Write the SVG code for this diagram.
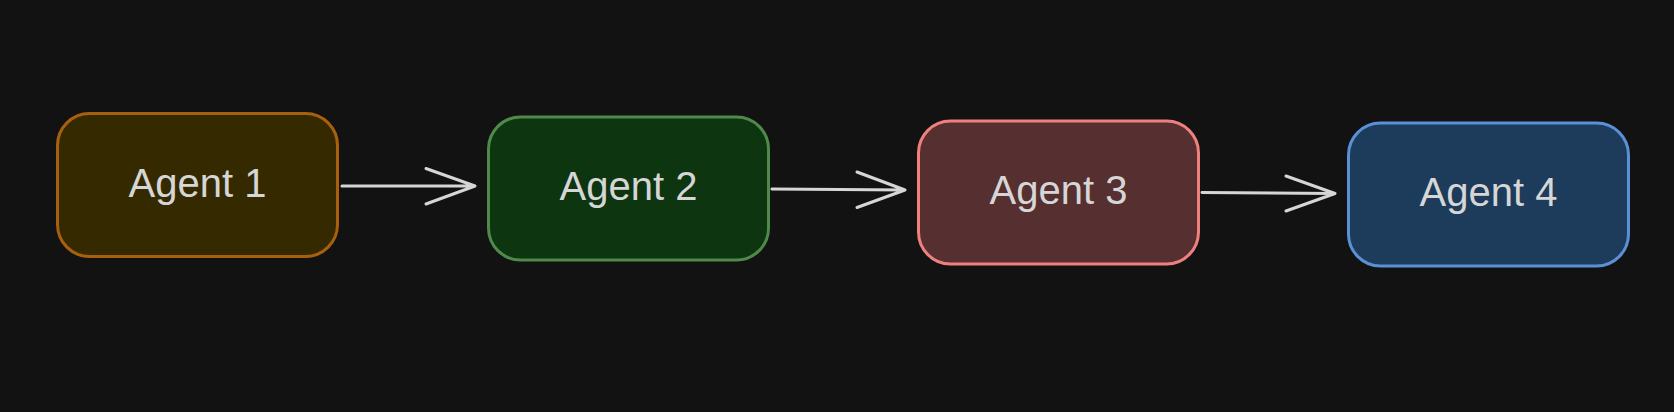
<svg xmlns="http://www.w3.org/2000/svg" width="1674" height="412" viewBox="0 0 1674 412">
<style>
.box{stroke-width:3}
.lbl{font-family:"Liberation Sans",Arial,sans-serif;font-size:40px;fill:#d6d6d6;text-anchor:middle}
.conn{stroke:#d6d6d6;stroke-width:3;fill:none;stroke-linecap:round;stroke-linejoin:round}
</style>
<rect width="1674" height="412" fill="#121212"/>
<g id="agent1"><rect class="box" x="57.5" y="113.5" width="280" height="143" rx="32" fill="#352900" stroke="#a8600f"/><text class="lbl" x="197.5" y="197">Agent 1</text></g>
<g id="agent2"><rect class="box" x="488.5" y="117" width="280" height="143" rx="32" fill="#0d3510" stroke="#4f8a4b"/><text class="lbl" x="628.5" y="200">Agent 2</text></g>
<g id="agent3"><rect class="box" x="918.5" y="121" width="280" height="143" rx="32" fill="#563030" stroke="#f08080"/><text class="lbl" x="1058.5" y="204">Agent 3</text></g>
<g id="agent4"><rect class="box" x="1348.5" y="123" width="280" height="143" rx="32" fill="#1d3b5a" stroke="#5b8fd6"/><text class="lbl" x="1488.5" y="206">Agent 4</text></g>
<g id="connectors">
<path class="conn" d="M342 186 L475 186 M426 168.5 L475 186 L426 204"/>
<path class="conn" d="M772 189 L905 190 M857 172 L905 190 L857 207.5"/>
<path class="conn" d="M1202 192.5 L1335 193.5 M1286 176 L1335 193.5 L1286 211"/>
</g>
</svg>
